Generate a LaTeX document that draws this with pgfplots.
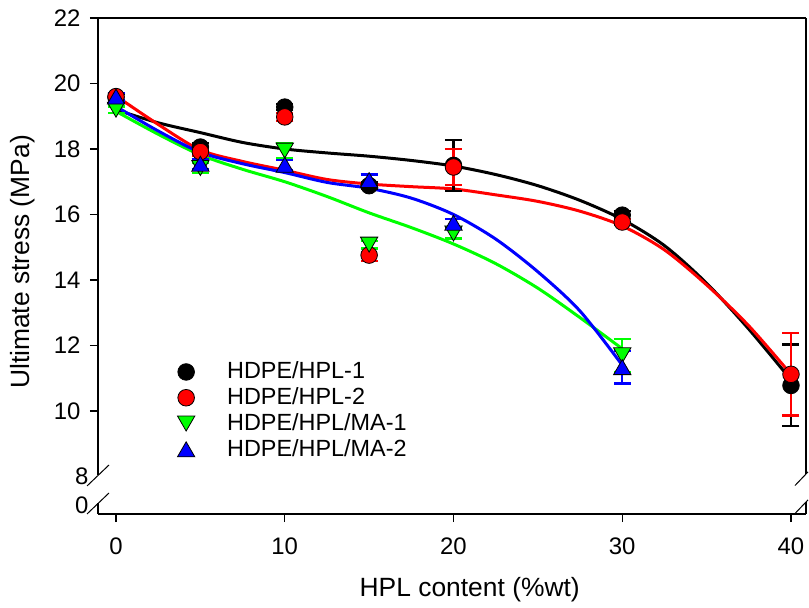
\documentclass[border=0pt]{standalone}
\usepackage{pgfplots}
\pgfplotsset{compat=1.18}
\usepackage{fontspec}
\setmainfont{Liberation Sans}
\definecolor{pgreen}{RGB}{0,255,0}
\definecolor{pred}{RGB}{255,0,0}
\definecolor{pblue}{RGB}{0,0,255}
\begin{document}
\begin{tikzpicture}[font=\fontsize{24}{28}\selectfont]
\begin{axis}[
  scale only axis, width=708bp, height=496bp,
  xmin=-1.067, xmax=40.89, ymin=6.855, ymax=22,
  axis line style={draw=none},
  tick align=outside, tick pos=left,
  xtick={0,10,20,30,40}, ytick={10,12,...,22},
  major tick length=8bp,
  tick style={black, line width=1.2bp},
  extra y ticks={8,7.11}, extra y tick labels={8,0},
  extra y tick style={major tick length=0pt, tick style={draw=none}},
  /pgf/number format/assume math mode=true,
  ticklabel style={font=\fontsize{24}{28}\selectfont},
  yticklabel style={xshift=-6bp},
  xticklabel style={yshift=-12bp},
  xlabel={HPL content (\%wt)}, ylabel={Ultimate stress (MPa)},
  label style={font=\fontsize{26.5}{30}\selectfont},
  xlabel style={at={(axis description cs:0.525,-0.153)}, anchor=center},
  ylabel style={at={(axis description cs:-0.107,0.508)}, anchor=center},
  clip=false,
  legend style={draw=none, fill=none, inner sep=0pt, at={(axis description cs:0.112,0.3074)}, anchor=north west,
    row sep=5.3bp, font=\fontsize{23.5}{27}\selectfont,
    cells={anchor=west, text height=15bp, text depth=4bp}},
  legend image code/.code={\pgfpathmoveto{\pgfpoint{0bp}{0bp}}\pgfpathlineto{\pgfpoint{47bp}{0bp}}\pgfusepath{discard}\draw[only marks] plot coordinates {(8bp,0bp)};},
]
% axis lines with breaks
\draw[line width=1.2bp] (axis cs:-1.067,6.855) -- (axis cs:40.89,6.855);
\draw[line width=1.2bp] (axis cs:-1.067,22) -- (axis cs:40.89,22);
\draw[line width=1.2bp] (axis cs:-1.067,22) -- (axis cs:-1.067,8.031);
\draw[line width=1.2bp] (axis cs:-1.067,7.176) -- (axis cs:-1.067,6.855);
\draw[line width=1.2bp] (axis cs:40.89,22) -- (axis cs:40.89,8.076);
\draw[line width=1.2bp] (axis cs:40.89,7.221) -- (axis cs:40.89,6.855);
\draw[line width=1bp] ([xshift=-11bp,yshift=-10.5bp]axis cs:-1.067,8.031) -- ([xshift=11bp,yshift=10.5bp]axis cs:-1.067,8.031);
\draw[line width=1bp] ([xshift=-11bp,yshift=-10.5bp]axis cs:-1.067,7.176) -- ([xshift=11bp,yshift=10.5bp]axis cs:-1.067,7.176);
\draw[line width=1bp] ([xshift=-11bp,yshift=-11.5bp]axis cs:40.89,8.076) -- ([xshift=2bp,yshift=2.1bp]axis cs:40.89,8.076);
\draw[line width=1bp] ([xshift=-11bp,yshift=-11.5bp]axis cs:40.89,7.221) -- ([xshift=2bp,yshift=2.1bp]axis cs:40.89,7.221);

% fitted curves
\addplot[forget plot, black, line width=3bp, smooth, tension=0.5] coordinates {
(0,19.2)(2.5,18.8)(5,18.5)(7.5,18.2)(10,18.0)(12.5,17.88)(15,17.78)(17.5,17.65)(20,17.48)(22.5,17.22)(25,16.88)(27.5,16.43)(30,15.85)(32.5,15.05)(35,13.9)(37.5,12.5)(40,10.95)};
\addplot[forget plot, pred, line width=3bp, smooth, tension=0.5] coordinates {
(0,19.62)(2.5,18.75)(5,17.97)(7.5,17.62)(10,17.35)(12.5,17.07)(15,16.93)(17.5,16.85)(20,16.78)(22.5,16.6)(25,16.4)(27.5,16.1)(30,15.65)(32.5,14.92)(35,13.85)(37.5,12.6)(40,11.12)};
\addplot[forget plot, pgreen, line width=3bp, smooth, tension=0.5] coordinates {
(0,19.15)(2.5,18.45)(5,17.82)(7.5,17.38)(10,17.0)(12.5,16.55)(15,16.05)(17.5,15.6)(20,15.1)(22.5,14.5)(25,13.75)(27.5,12.85)(30,11.9)};
\addplot[forget plot, pblue, line width=3bp, smooth, tension=0.5] coordinates {
(0,19.3)(2.5,18.55)(5,17.9)(7.5,17.55)(10,17.28)(12.5,16.98)(15,16.8)(17.5,16.5)(20,16.0)(22.5,15.25)(25,14.25)(27.5,13.05)(30,11.4)};

% data points
\addplot[only marks, mark=*, mark size=8.3bp, mark options={fill=black, draw=black, line width=0.8bp},
  error bars/.cd, y dir=both, y explicit, error bar style={line width=2.2bp, black},
  error mark options={rotate=90, mark size=8.5bp, line width=2.2bp, black}]
  table[x=x, y=y, y error=e] {
x y e
0 19.58 0.1
5 18.06 0.12
10 19.28 0.1
15 16.88 0.1
20 17.5 0.78
30 15.98 0.12
40 10.78 1.25
};
\addlegendentry{HDPE/HPL-1}
\addplot[only marks, mark=*, mark size=8.3bp, mark options={fill=pred, draw=black, line width=0.8bp},
  error bars/.cd, y dir=both, y explicit, error bar style={line width=2.2bp, pred},
  error mark options={rotate=90, mark size=8.5bp, line width=2.2bp, pred}]
  table[x=x, y=y, y error=e] {
x y e
0 19.6 0.1
5 17.92 0.12
10 18.98 0.12
15 14.76 0.18
20 17.45 0.55
30 15.77 0.1
40 11.12 1.26
};
\addlegendentry{HDPE/HPL-2}
\addplot[only marks, mark=triangle*, mark size=10bp, mark options={yshift=2.5bp, rotate=180, fill=pgreen, draw=black, line width=0.8bp},
  error bars/.cd, y dir=both, y explicit, error bar style={line width=2.2bp, pgreen},
  error mark options={rotate=90, mark size=8.5bp, line width=2.2bp, pgreen}]
  table[x=x, y=y, y error=e] {
x y e
0 19.2 0.1
5 17.42 0.15
10 17.95 0.22
15 15.08 0.12
20 15.42 0.15
30 11.7 0.5
};
\addlegendentry{HDPE/HPL/MA-1}
\addplot[only marks, mark=triangle*, mark size=10bp, mark options={yshift=-2.5bp, fill=pblue, draw=black, line width=0.8bp},
  error bars/.cd, y dir=both, y explicit, error bar style={line width=2.2bp, pblue},
  error mark options={rotate=90, mark size=8.5bp, line width=2.2bp, pblue}]
  table[x=x, y=y, y error=e] {
x y e
0 19.6 0.12
5 17.55 0.15
10 17.52 0.15
15 17.05 0.17
20 15.75 0.12
30 11.34 0.5
};
\addlegendentry{HDPE/HPL/MA-2}
\end{axis}
\path ([xshift=-98bp,yshift=-94bp]current axis.south west) rectangle ([xshift=711bp,yshift=514bp]current axis.south west);
\end{tikzpicture}
\end{document}
